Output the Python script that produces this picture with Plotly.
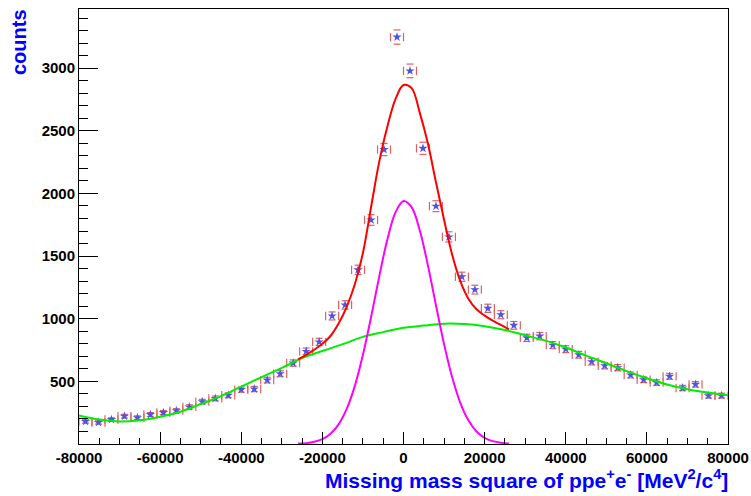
import numpy as np
import plotly.graph_objects as go

# ---------------- data ----------------
bin_centers = [-78400, -75200, -72000, -68800, -65600, -62400, -59200, -56000, -52800, -49600,
               -46400, -43200, -40000, -36800, -33600, -30400, -27200, -24000, -20800, -17600,
               -14400, -11200, -8000, -4800, -1600, 1600, 4800, 8000, 11200, 14400,
               17600, 20800, 24000, 27200, 30400, 33600, 36800, 40000, 43200, 46400,
               49600, 52800, 56000, 59200, 62400, 65600, 68800, 72000, 75200, 78400]
counts = [180, 172, 195, 222, 210, 235, 251, 266, 296, 338,
          364, 389, 434, 439, 510, 561, 646, 739, 815, 1022,
          1110, 1390, 1788, 2350, 3248, 2978, 2360, 1898, 1653, 1335,
          1232, 1083, 1032, 947, 847, 861, 789, 757, 712, 657,
          625, 609, 551, 513, 490, 540, 447, 476, 386, 386]
bin_half_width = 1600

# background component (green)
bg_x = [-80000, -75000, -70000, -65000, -60000, -55000, -50000, -45000, -40000, -35000, -30000,
        -25000, -20000, -15000, -10000, -5000, 0, 5000, 10000, 15000, 20000, 25000,
        30000, 35000, 40000, 45000, 50000, 55000, 60000, 65000, 70000, 75000, 80000]
bg_y = [228, 195, 180, 190, 218, 258, 318, 382, 458, 534, 607,
        685, 742, 797, 855, 893, 928, 945, 960, 957, 940, 910,
        868, 825, 770, 705, 645, 582, 525, 475, 437, 411, 390]

# fit range curves (red total, magenta signal)
fit_x = [-26000, -24000, -22000, -20000, -18000, -16000, -14000, -12000, -10000, -8000, -6000,
         -4000, -2000, 0, 2000, 4000, 6000, 8000, 10000, 12000, 14000, 16000, 18000,
         20000, 22000, 24000, 26000]
total_y = [675, 712, 752, 800, 862, 962, 1095, 1275, 1525, 1890, 2250,
           2530, 2750, 2865, 2840, 2645, 2400, 2090, 1790, 1510, 1300, 1160, 1075,
           1025, 985, 950, 915]
signal_y = [3, 7, 18, 39, 82, 157, 280, 464, 712, 1012, 1334,
            1630, 1847, 1940, 1890, 1706, 1428, 1108, 797, 532, 329, 189, 100,
            49, 23, 10, 4]

x_tick_vals = [-80000, -60000, -40000, -20000, 0, 20000, 40000, 60000, 80000]
x_tick_text = ["-80000", "-60000", "-40000", "-20000", "0", "20000", "40000", "60000", "80000"]
y_tick_vals = [500, 1000, 1500, 2000, 2500, 3000]
y_tick_text = ["500", "1000", "1500", "2000", "2500", "3000"]

# ---------------- figure ----------------
cx = np.array(bin_centers, dtype=float)
cy = np.array(counts, dtype=float)
err = np.sqrt(cy)

cap_color = "#e06060"
fig = go.Figure()

# horizontal end caps of y errors
fig.add_trace(go.Scatter(
    x=np.concatenate([cx, cx]), y=np.concatenate([cy + err, cy - err]),
    mode="markers", hoverinfo="skip",
    marker=dict(symbol="line-ew", size=5, line=dict(color=cap_color, width=1.2)),
))
# vertical end caps of x errors
fig.add_trace(go.Scatter(
    x=np.concatenate([cx - bin_half_width, cx + bin_half_width]), y=np.concatenate([cy, cy]),
    mode="markers", hoverinfo="skip",
    marker=dict(symbol="line-ns", size=6, line=dict(color=cap_color, width=1.2)),
))
# star markers
fig.add_trace(go.Scatter(
    x=cx, y=cy, mode="markers",
    marker=dict(symbol="star", size=7, color="#5252e0", line=dict(width=0)),
))
# curves
fig.add_trace(go.Scatter(x=bg_x, y=bg_y, mode="lines",
                         line=dict(color="#00ee00", width=2, shape="spline")))
fig.add_trace(go.Scatter(x=fit_x, y=total_y, mode="lines",
                         line=dict(color="#ff0000", width=2, shape="spline")))
fig.add_trace(go.Scatter(x=fit_x, y=signal_y, mode="lines",
                         line=dict(color="#ff00ff", width=2, shape="spline")))

tick_font = dict(family="Liberation Sans", size=15, color="black", weight="bold")

fig.update_layout(
    width=751, height=496,
    margin=dict(l=79, r=23, t=9, b=52, pad=0, autoexpand=False),
    paper_bgcolor="white", plot_bgcolor="white",
    showlegend=False,
    xaxis=dict(
        range=[-80000, 80000], showgrid=False, zeroline=False, automargin=False,
        showline=True, linecolor="black", linewidth=1, mirror=True,
        ticks="inside", ticklen=12, tickwidth=1, tickcolor="black",
        tickmode="array", tickvals=x_tick_vals, ticktext=x_tick_text,
        tickfont=tick_font,
        minor=dict(dtick=5000, tick0=0, ticks="inside", ticklen=6, tickcolor="black", showgrid=False),
    ),
    yaxis=dict(
        range=[0, 3472], showgrid=False, zeroline=False, automargin=False,
        showline=True, linecolor="black", linewidth=1, mirror=True,
        ticks="inside", ticklen=19, tickwidth=1, tickcolor="black",
        tickmode="array", tickvals=y_tick_vals, ticktext=y_tick_text,
        tickfont=tick_font,
        minor=dict(dtick=100, tick0=0, ticks="inside", ticklen=9, tickcolor="black", showgrid=False),
    ),
    annotations=[
        dict(text="Missing mass square of ppe<sup>+</sup>e<sup>-</sup> [MeV<sup>2</sup>/c<sup>4</sup>]",
             xref="paper", yref="paper", x=1, y=0, xanchor="right", yanchor="middle",
             xshift=2, yshift=-35, showarrow=False,
             font=dict(family="Liberation Sans", size=21, color="#0000ff", weight="bold")),
        dict(text="counts", textangle=-90,
             xref="paper", yref="paper", x=0, y=1, xanchor="center", yanchor="top",
             xshift=-60, yshift=2, showarrow=False,
             font=dict(family="Liberation Sans", size=20, color="#0000ff", weight="bold")),
    ],
)

fig.write_html("out.html")
